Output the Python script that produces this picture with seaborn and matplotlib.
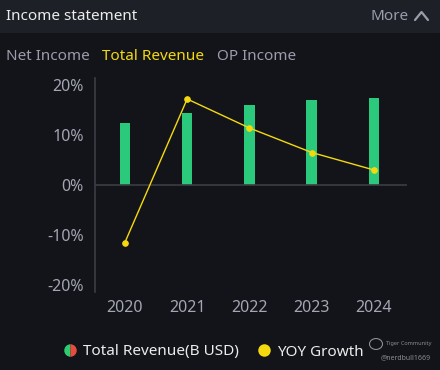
import numpy as np
import matplotlib.pyplot as plt
import pandas as pd
import seaborn as sns
from matplotlib.lines import Line2D
from matplotlib.patches import Rectangle, Circle

# chart data
years = ['2020', '2021', '2022', '2023', '2024']
revenue = [24.4, 28.4, 31.5, 33.4, 34.3]   # B USD (secondary scale, not shown)
yoy_growth = [-11.5, 17.2, 11.4, 6.5, 3.0]  # %
y_ticks = [-20, -10, 0, 10, 20]
tab_labels = ['Net Income', 'Total Revenue', 'OP Income']

bg = '#121419'
header_bg = '#1d2027'
green = '#2ac97c'
yellow = '#f5d90f'
tick_col = '#a3a6b3'
line_col = '#3a3d45'

sns.set_style('dark')
plt.rcParams['font.family'] = ['Noto Sans', 'DejaVu Sans']

df = pd.DataFrame({'Year': years, 'Revenue': revenue, 'YOY': yoy_growth})

fig = plt.figure(figsize=(4.4, 3.7), dpi=100, facecolor=bg)

# header bar
fig.add_artist(Rectangle((0, 1 - 33 / 370), 1, 33 / 370, transform=fig.transFigure,
                         facecolor=header_bg, edgecolor='none', zorder=0))
fig.text(6 / 440, 1 - 17 / 370, 'Income statement', color='#ececec', fontsize=11,
         va='center', ha='left')
fig.text(409 / 440, 1 - 17 / 370, 'More', color='#9a9daa', fontsize=11,
         va='center', ha='right')
fig.add_artist(Line2D([415 / 440, 421.5 / 440, 428 / 440],
                      [1 - 20 / 370, 1 - 12 / 370, 1 - 20 / 370],
                      transform=fig.transFigure, color='#9a9daa', lw=1.6))

# tabs
tab_x = [6, 102, 217]
tab_colors = ['#9a9daa', yellow, '#9a9daa']
for lbl, x, c in zip(tab_labels, tab_x, tab_colors):
    fig.text(x / 440, 1 - 57 / 370, lbl, color=c, fontsize=11, va='center', ha='left')

# axes
ax = fig.add_axes([95 / 440, 78 / 370, 312 / 440, 214 / 370])
ax2 = ax.twinx()
ax.set_zorder(ax2.get_zorder() + 1)
ax.patch.set_visible(False)
ax2.set_facecolor(bg)

sns.barplot(data=df, x='Year', y='Revenue', order=years, color=green, width=0.17,
            saturation=1, linewidth=0, edgecolor='none', ax=ax2)
lim2 = 40 * 21.4 / 20.4
ax2.set_ylim(-lim2, lim2)
ax2.set_yticks([])
ax2.set_ylabel('')
ax2.set_xlabel('')

sns.pointplot(data=df, x='Year', y='YOY', order=years, color=yellow, markers='o',
              markersize=4, linewidth=1.0, ax=ax)
ax.axhline(0, color=line_col, lw=1.2, zorder=0)
ax.set_ylim(-21.4, 21.4)
ax.set_xlim(-0.48, 4.53)
ax.set_yticks(y_ticks)
ax.set_yticklabels([f'{t}%' for t in y_ticks])
ax.set_xlabel('')
ax.set_ylabel('')
ax.tick_params(axis='both', length=0, colors=tick_col, labelsize=11.5)
ax.tick_params(axis='x', pad=6)
ax.tick_params(axis='y', pad=8)
ax.grid(False)
ax2.grid(False)
for s in ['top', 'right', 'bottom']:
    ax.spines[s].set_visible(False)
    ax2.spines[s].set_visible(False)
ax2.spines['left'].set_visible(False)
ax.spines['left'].set_color(line_col)
ax.spines['left'].set_linewidth(1.2)

# legend
handles = [
    Line2D([], [], marker='o', linestyle='none', markersize=9, fillstyle='left',
           markerfacecolor='#2ecc71', markerfacecoloralt='#e74c3c', markeredgewidth=0),
    Line2D([], [], marker='o', linestyle='none', markersize=9,
           markerfacecolor=yellow, markeredgewidth=0),
]
fig.legend(handles, ['Total Revenue(B USD)', 'YOY Growth'], loc='center',
           bbox_to_anchor=(213 / 440, 1 - 352 / 370), ncol=2, frameon=False,
           fontsize=11, labelcolor='#ececec', handletextpad=0.3, columnspacing=1.2,
           handlelength=1.0)

# watermark
fig.add_artist(Circle((376 / 440, 1 - 344 / 370), 6.5 / 440, transform=fig.transFigure,
                      facecolor='none', edgecolor='#8a8d96', lw=0.8))
fig.text(386 / 440, 1 - 343 / 370, 'Tiger Community', color='#8a8d96', fontsize=4,
         va='center', ha='left')
fig.text(381 / 440, 1 - 358 / 370, '@nerdbull1669', color='#8a8d96', fontsize=5,
         va='center', ha='left')

fig.savefig('out.png', dpi=100, facecolor=bg)
